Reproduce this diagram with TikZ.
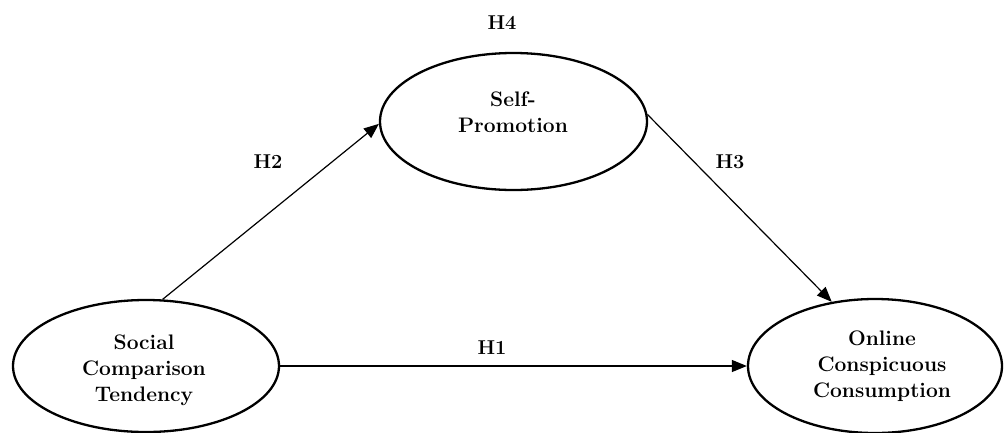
\documentclass[tikz,border=0pt]{standalone}
\usetikzlibrary{arrows.meta,shapes.geometric}
\begin{document}
\begin{tikzpicture}[x=1pt,y=-1pt,
  construct/.style={ellipse,draw,line width=2.3pt,inner sep=0pt},
  ctext/.style={font=\fontsize{21}{26}\selectfont\bfseries,align=center,inner sep=0pt},
  hlabel/.style={font=\fontsize{20}{22}\selectfont\bfseries,inner sep=0pt},
  path/.style={line width=1.2pt,-{Triangle[length=15pt,width=12pt]}}]
\useasboundingbox (0,0) rectangle (1004,432);
\node[construct,minimum width=266pt,minimum height=132pt] (L) at (146,366) {};
\node[construct,minimum width=267pt,minimum height=137pt] (T) at (513.5,121.5) {};
\node[construct,minimum width=254pt,minimum height=134pt] (R) at (875,366) {};
\node[ctext] (Lt) at (144,370) {Social\\Comparison\\Tendency};
\node[ctext] (Tt) at (513,112) {Self-\\Promotion};
\node[ctext] (Rt) at (882,366) {Online\\Conspicuous\\Consumption};
\draw[path] (L.76) -- (T.181);
\draw[path] (T.3) -- (R.124);
\draw[path] (L.east) -- (R.west);
\node[hlabel] (h4) at (502,23) {H4};
\node[hlabel] (h2) at (268,162) {H2};
\node[hlabel] (h3) at (730,162) {H3};
\node[hlabel] (h1) at (492,348) {H1};
\end{tikzpicture}
\end{document}
